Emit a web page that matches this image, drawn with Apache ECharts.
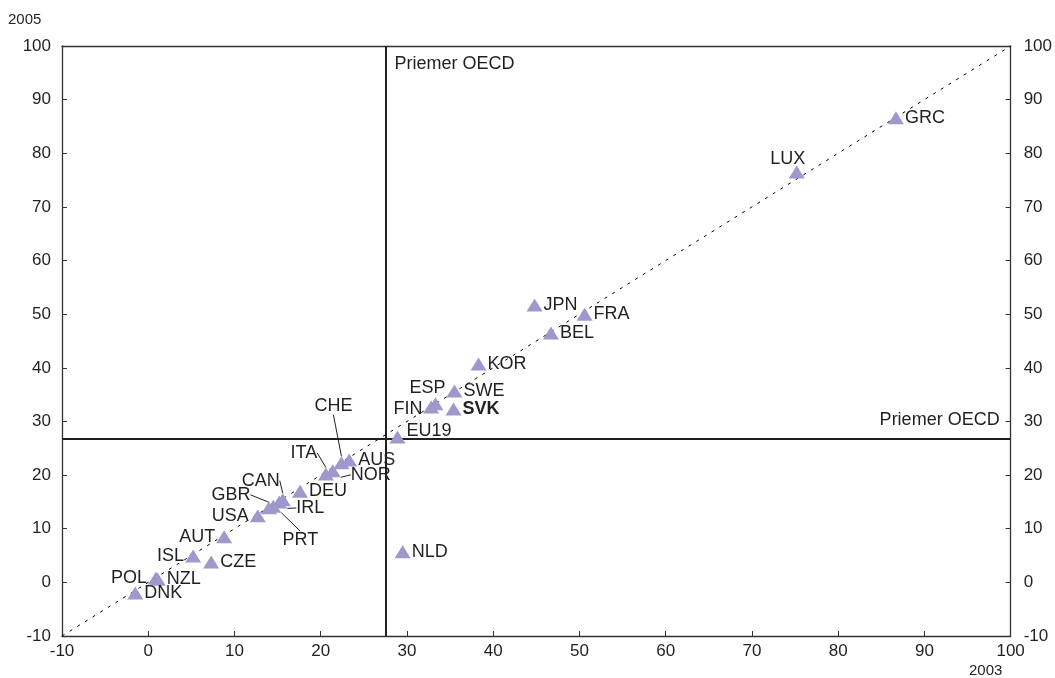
<!DOCTYPE html>
<html>
<head>
<meta charset="utf-8">
<script src="https://cdn.jsdelivr.net/npm/echarts@6/dist/echarts.min.js"></script>
<style>
html,body{margin:0;padding:0;background:#fff;}
#chart{width:1055px;height:678px;}
</style>
</head>
<body>
<div id="chart"></div>
<script>
// ---- data ----
const countries = ['GRC','LUX','JPN','FRA','BEL','KOR','SWE','ESP','FIN','SVK','EU19','NLD','AUS','CHE','NOR','ITA','DEU','CAN','IRL','PRT','GBR','USA','AUT','ISL','CZE','NZL','POL','DNK'];
const value2003 = [86.7, 75.2, 44.8, 50.6, 46.7, 38.3, 35.5, 33.3, 32.8, 35.4, 28.9, 29.5, 23.3, 22.4, 21.4, 20.6, 17.6, 15.6, 15.2, 14.5, 14.0, 12.7, 8.8, 5.2, 7.3, 1.1, 0.9, -1.5];
const value2005 = [86.6, 76.5, 51.7, 50.0, 46.5, 40.7, 35.7, 33.3, 32.7, 32.3, 27.1, 5.7, 22.8, 22.3, 20.8, 20.2, 17.0, 15.4, 15.0, 14.2, 13.9, 12.4, 8.5, 4.9, 3.8, 0.6, 0.8, -2.0];
const oecdAverage = [27.5, 26.7]; // [2003, 2005]
const axisTicks = [-10, 0, 10, 20, 30, 40, 50, 60, 70, 80, 90, 100];
const oecdLabel = 'Priemer OECD';
const xTitle = '2003';
const yTitle = '2005';

// ---- label placement (style only) ----
const place = {
  GRC:['right'], LUX:['top',[-9,3]], JPN:['right'], FRA:['right'], BEL:['right'],
  KOR:['right'], SWE:['right'], ESP:['inside',[-8,-16]], FIN:['inside',[-23,2]],
  SVK:['right',[0,0],false,true], EU19:['right',[0,-6]], NLD:['right'], AUS:['right'],
  CHE:['inside',[-8,-57],true], NOR:['inside',[38,4],true], ITA:['inside',[-22,-21],true],
  DEU:['right'], CAN:['inside',[-22,-19],true], IRL:['inside',[31,6],true],
  GBR:['inside',[-38,-13],true], PRT:['inside',[27,34],true], USA:['left'], AUT:['left'],
  ISL:['left'], CZE:['right'], NZL:['right'], POL:['left'], DNK:['right']
};

const textColor = '#231f20';
const font = 'Liberation Sans, Arial, Helvetica, sans-serif';

const pts = countries.map((c, i) => {
  const p = place[c] || ['right'];
  const item = {
    name: c,
    value: [value2003[i], value2005[i]],
    label: {
      position: p[0],
      offset: p[1] || [0, 0],
      fontWeight: p[3] ? 'bold' : 'normal'
    }
  };
  if (p[2]) item.labelLine = { show: true };
  return item;
});

const chart = echarts.init(document.getElementById('chart'), null, {renderer: 'canvas'});

const tickLabelStyle = { color: textColor, fontSize: 17, fontFamily: font };
const lo = axisTicks[0], hi = axisTicks[axisTicks.length - 1], step = axisTicks[1] - axisTicks[0];
const axisLineStyle = { show: true, onZero: false, lineStyle: { color: '#333', width: 1.3 } };

chart.setOption({
  animation: false,
  backgroundColor: '#ffffff',
  grid: { left: 62, right: 43, top: 46, bottom: 42, containLabel: false },
  xAxis: [
    {
      type: 'value', position: 'bottom', min: lo, max: hi, interval: step,
      axisLine: axisLineStyle,
      axisTick: { show: true, inside: true, length: 5, lineStyle: { color: '#333' } },
      axisLabel: Object.assign({ margin: 7 }, tickLabelStyle),
      splitLine: { show: false }
    },
    {
      type: 'value', position: 'top', min: lo, max: hi, interval: step,
      axisLine: axisLineStyle,
      axisTick: { show: false }, axisLabel: { show: false }, splitLine: { show: false }
    }
  ],
  yAxis: [
    {
      type: 'value', position: 'left', min: lo, max: hi, interval: step,
      axisLine: axisLineStyle,
      axisTick: { show: true, inside: true, length: 5, lineStyle: { color: '#333' } },
      axisLabel: Object.assign({ margin: 11 }, tickLabelStyle),
      splitLine: { show: false }
    },
    {
      type: 'value', position: 'right', min: lo, max: hi, interval: step,
      axisLine: axisLineStyle,
      axisTick: { show: true, inside: true, length: 5, lineStyle: { color: '#333' } },
      axisLabel: Object.assign({ margin: 13 }, tickLabelStyle),
      splitLine: { show: false }
    }
  ],
  series: [
    {
      type: 'line', data: [[lo, lo], [hi, hi]], symbol: 'none', silent: true, z: 1,
      lineStyle: { color: '#000', width: 1, type: [3, 6] },
      markLine: {
        silent: true, symbol: 'none', animation: false,
        lineStyle: { color: textColor, type: 'solid', width: 2 },
        label: { show: false },
        data: [{ xAxis: oecdAverage[0] }, { yAxis: oecdAverage[1] }]
      }
    },
    {
      type: 'scatter', data: pts, symbol: 'triangle', symbolSize: [16, 13], z: 5,
      itemStyle: { color: '#9e98cc', opacity: 1 },
      label: {
        show: true, formatter: '{b}', color: textColor, fontSize: 18, fontFamily: font, distance: 1
      },
      labelLine: { show: false, lineStyle: { color: textColor, width: 1 }, length2: 0 }
    }
  ]
});

// OECD average labels and axis-year titles, anchored through the chart's own scales
const vTop = chart.convertToPixel({ xAxisIndex: 0, yAxisIndex: 0 }, [oecdAverage[0], hi]);
const hRight = chart.convertToPixel({ xAxisIndex: 0, yAxisIndex: 0 }, [hi, oecdAverage[1]]);
chart.setOption({
  graphic: [
    { type: 'text', x: vTop[0] + 9, y: vTop[1] + 18, style: { text: oecdLabel, fill: textColor, font: '18px ' + font, align: 'left', verticalAlign: 'middle' }, z: 10 },
    { type: 'text', x: hRight[0] - 11, y: hRight[1] - 19, style: { text: oecdLabel, fill: textColor, font: '18px ' + font, align: 'right', verticalAlign: 'middle' }, z: 10 },
    { type: 'text', left: 8, top: 12, style: { text: yTitle, fill: textColor, font: '15px ' + font } },
    { type: 'text', left: 969, top: 663, style: { text: xTitle, fill: textColor, font: '15px ' + font } }
  ]
});
</script>
</body>
</html>
